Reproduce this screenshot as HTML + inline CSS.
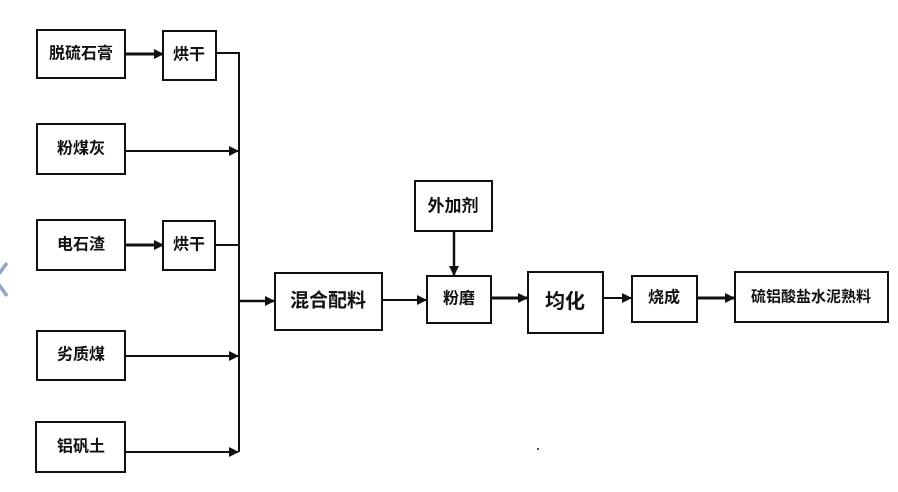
<!DOCTYPE html>
<html><head><meta charset="utf-8"><style>
html,body{margin:0;padding:0;background:#fff;}
svg{display:block}
text{font-family:"Liberation Sans","Noto Sans CJK SC","WenQuanYi Zen Hei",sans-serif;font-weight:bold;fill:#111;text-anchor:middle;dominant-baseline:central}
</style></head><body>
<svg width="898" height="492" viewBox="0 0 898 492" xmlns="http://www.w3.org/2000/svg">
<defs><marker id="a" markerWidth="10" markerHeight="10" refX="9" refY="5" orient="auto" markerUnits="userSpaceOnUse"><path d="M0,0 L10,5 L0,10 z" fill="#111"/></marker></defs>
<g fill="none" stroke="#111" stroke-width="2">
<rect x="37" y="30" width="88" height="48"/>
<rect x="163" y="31" width="53" height="49"/>
<rect x="37" y="124" width="88" height="50"/>
<rect x="37" y="220" width="88" height="50"/>
<rect x="163" y="221" width="52" height="49"/>
<rect x="37" y="331" width="88" height="49"/>
<rect x="36" y="422" width="89" height="50"/>
<rect x="275" y="273" width="107" height="57"/>
<rect x="415" y="181" width="77" height="50"/>
<rect x="427" y="276" width="64" height="47"/>
<rect x="528" y="272" width="75" height="61"/>
<rect x="632" y="276" width="65" height="46"/>
<rect x="735" y="272" width="153" height="50"/>
<path d="M216,53 H239 V452 M215,245 H239"/>
<path d="M125,54 H163" stroke-width="3" marker-end="url(#a)"/>
<path d="M125,245 H163" stroke-width="3" marker-end="url(#a)"/>
<path d="M125,151 H238" marker-end="url(#a)"/>
<path d="M125,356 H238" marker-end="url(#a)"/>
<path d="M125,452 H238" marker-end="url(#a)"/>
<path d="M239,301 H274" stroke-width="2.5" marker-end="url(#a)"/>
<path d="M382,300 H426" marker-end="url(#a)"/>
<path d="M454,231 V275" stroke-width="2.5" marker-end="url(#a)"/>
<path d="M491,298 H527" stroke-width="3" marker-end="url(#a)"/>
<path d="M603,298 H631" marker-end="url(#a)"/>
<path d="M697,298 H734" stroke-width="3" marker-end="url(#a)"/>
</g>
<path d="M7,263 L-5,279 L7,296" fill="none" stroke="#8fa6c2" stroke-width="3.5"/>
<rect x="537" y="448" width="2" height="2" fill="#555"/>
<text x="81" y="54" font-size="16">脱硫石膏</text>
<text x="189" y="55" font-size="16">烘干</text>
<text x="81" y="149" font-size="16">粉煤灰</text>
<text x="81" y="245" font-size="16">电石渣</text>
<text x="189" y="245" font-size="16">烘干</text>
<text x="81" y="355" font-size="16">劣质煤</text>
<text x="81" y="447" font-size="16">铝矾土</text>
<text x="328" y="301" font-size="19">混合配料</text>
<text x="453" y="206" font-size="17">外加剂</text>
<text x="459" y="299" font-size="16">粉磨</text>
<text x="565" y="302" font-size="20">均化</text>
<text x="664" y="298" font-size="16">烧成</text>
<text x="811" y="297" font-size="15">硫铝酸盐水泥熟料</text>
</svg>
</body></html>
